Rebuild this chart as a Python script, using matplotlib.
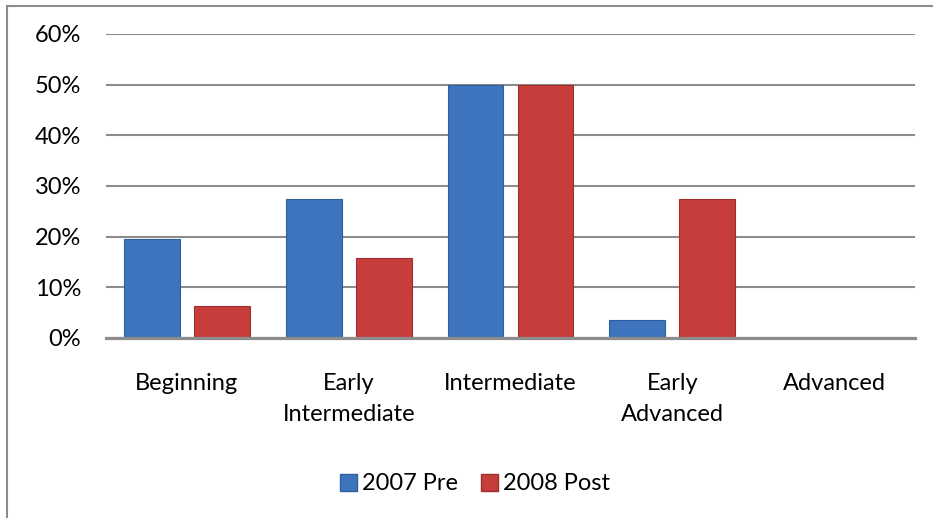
import numpy as np
import matplotlib.pyplot as plt
from matplotlib.lines import Line2D

plt.rcParams['font.family'] = ['Lato', 'DejaVu Sans']

# Data
categories = ["Beginning", "Early\nIntermediate", "Intermediate", "Early\nAdvanced", "Advanced"]
pre_2007 = [19.5, 27.4, 50.0, 3.5, 0.0]
post_2008 = [6.4, 15.7, 50.0, 27.4, 0.0]
series_names = ["2007 Pre", "2008 Post"]
yticks = [0, 10, 20, 30, 40, 50, 60]

blue = "#3d74bd"
red = "#c63d3b"
grid_gray = "#8c8c8c"
fs = 17

W, H = 933, 518
fig = plt.figure(figsize=(W / 100, H / 100), dpi=100)
ax = fig.add_axes([106 / W, 1 - 338 / H, (915 - 106) / W, (338 - 34) / H])

x = np.arange(len(categories))
bw = 0.345
off = 0.216
ax.bar(x - off, pre_2007, width=bw, color=blue, edgecolor="#2f5f9e", linewidth=0.8, zorder=3)
ax.bar(x + off, post_2008, width=bw, color=red, edgecolor="#9e2f2d", linewidth=0.8, zorder=3)

ax.set_xlim(-0.5, len(categories) - 0.5)
ax.set_ylim(0, 60)
ax.set_yticks(yticks)
ax.set_yticklabels([f"{v}%" for v in yticks])
ax.set_xticks(x)
ax.set_xticklabels(categories, va="top", linespacing=1.6)

ax.yaxis.grid(True, color=grid_gray, linewidth=1.5, zorder=0)
ax.set_axisbelow(True)
for s in ["top", "right", "left"]:
    ax.spines[s].set_visible(False)
ax.spines["bottom"].set_color(grid_gray)
ax.spines["bottom"].set_linewidth(2.3)
ax.spines["bottom"].set_zorder(4)
ax.tick_params(axis="both", length=0, labelsize=fs, colors="black")
ax.tick_params(axis="y", pad=18)
ax.tick_params(axis="x", pad=25)

handles = [plt.Rectangle((0, 0), 1, 1, facecolor=blue, edgecolor="#2f5f9e"),
           plt.Rectangle((0, 0), 1, 1, facecolor=red, edgecolor="#9e2f2d")]
fig.legend(handles, series_names, loc="center", bbox_to_anchor=(475 / W, 1 - 484 / H),
           ncol=2, frameon=False, fontsize=fs, handlelength=0.7, handleheight=0.7,
           handletextpad=0.2, columnspacing=1.0)

# outer chart frame (left and top edges visible)
fig.add_artist(Line2D([7 / W, 7 / W], [0, 1 - 6 / H], transform=fig.transFigure, color="#8c8c8c", linewidth=1.5))
fig.add_artist(Line2D([7 / W, 1], [1 - 6 / H, 1 - 6 / H], transform=fig.transFigure, color="#8c8c8c", linewidth=1.5))

fig.savefig("out.png", dpi=100)
